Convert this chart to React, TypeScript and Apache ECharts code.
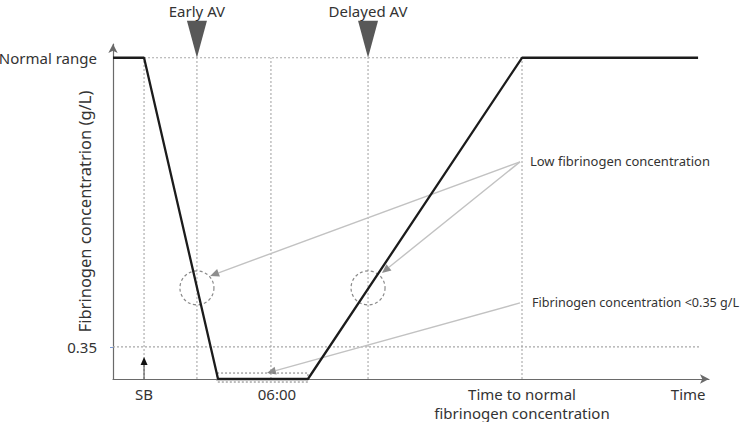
import React, { useEffect, useRef } from "react";
import * as echarts from "echarts";

// ---- data (schematic units: x = time, y = fibrinogen level) ----
const X_MAX = 24;
const Y_MAX = 3.65;
const NORMAL = 3.5;
const LOW = 0.35;

const profileX = [0, 1.25, 4.23, 7.85, 16.47, 23.56];
const profileY = [3.5, 3.5, 0, 0, 3.5, 3.5];

const yTickValues = [0.35, 3.5];
const yTickLabels = ["0.35", "Normal range"];

const xTickValues = [1.25, 6.6, 16.47, 23.16];
const xTickLabels = ["SB", "06:00", "Time to normal\nfibrinogen concentration", "Time"];

const guideVX = [1.25, 3.38, 6.36, 10.27, 16.47];
const guideHY = [3.5, 0.35];
const guideHFrom = [1.25, 0];
const guideHTo = [16.47, 23.64];

const avNames = ["Early AV", "Delayed AV"];
const avX = [3.38, 10.27];

const circleX = [3.38, 10.27];
const circleY = [0.992, 0.992];

const calloutText = ["Low fibrinogen concentration", "Fibrinogen concentration <0.35 g/L"];
const calloutTextX = [16.79, 16.87];
const calloutTextY = [2.377, 0.829];
const calloutFontSize = [13, 12.6];

const arrowFromX = [16.39, 16.39, 16.39];
const arrowFromY = [2.366, 2.366, 0.829];
const arrowToX = [3.91, 10.83, 6.2];
const arrowToY = [1.123, 1.156, 0.065];

const boxX = [4.19, 7.85];
const boxY = [-0.033, 0.065];

const sbArrowX = [1.25];
const sbArrowY = [0, 0.24];

const FONT = '"Noto Sans", sans-serif';
const TEXT = "#333333";

function arrowHead(a: number[], b: number[], len: number, half: number) {
  const dx = b[0] - a[0];
  const dy = b[1] - a[1];
  const L = Math.sqrt(dx * dx + dy * dy) || 1;
  const ux = dx / L;
  const uy = dy / L;
  const bx = b[0] - ux * len;
  const by = b[1] - uy * len;
  return {
    base: [bx, by],
    pts: [
      [b[0], b[1]],
      [bx - uy * half, by + ux * half],
      [bx + uy * half, by - ux * half],
    ],
  };
}

export default function App() {
  const ref = useRef<HTMLDivElement>(null);

  useEffect(() => {
    if (!ref.current) return;
    const chart = echarts.init(ref.current, undefined, { renderer: "svg" });

    const guideData: number[][] = [];
    guideVX.forEach((x) => guideData.push([x, 0, x, NORMAL]));
    guideHY.forEach((y, i) => guideData.push([guideHFrom[i], y, guideHTo[i], y]));

    const option: any = {
      animation: false,
      grid: {
        left: 113,
        right: 41,
        top: 44,
        bottom: 43,
        containLabel: false,
        outerBoundsMode: "none",
      },
      xAxis: {
        type: "value",
        min: 0,
        max: X_MAX,
        splitLine: { show: false },
        axisTick: { show: false },
        axisLine: {
          show: true,
          lineStyle: { color: "#6a6a6a", width: 1.2 },
          symbol: ["none", "arrow"],
          symbolSize: [7, 9],
        },
        axisLabel: {
          customValues: xTickValues,
          formatter: (v: number) => {
            const i = xTickValues.findIndex((t) => Math.abs(t - v) < 1e-6);
            return i >= 0 ? xTickLabels[i] : "";
          },
          margin: 5,
          fontSize: 15,
          lineHeight: 19,
          color: TEXT,
          fontFamily: FONT,
        },
      },
      yAxis: {
        type: "value",
        min: 0,
        max: Y_MAX,
        splitLine: { show: false },
        axisLine: {
          show: true,
          lineStyle: { color: "#6a6a6a", width: 1.2 },
          symbol: ["none", "arrow"],
          symbolSize: [7, 9],
        },
        axisTick: {
          show: true,
          customValues: [LOW],
          length: 3,
          lineStyle: { color: "#7a9ad8" },
        },
        axisLabel: {
          customValues: yTickValues,
          formatter: (v: number) => {
            const i = yTickValues.findIndex((t) => Math.abs(t - v) < 1e-6);
            return i >= 0 ? yTickLabels[i] : "";
          },
          margin: 16,
          fontSize: 15,
          color: TEXT,
          fontFamily: FONT,
        },
        name: "Fibrinogen concentratrion (g/L)",
        nameLocation: "middle",
        nameGap: 20,
        nameMoveOverlap: false,
        nameTextStyle: { fontSize: 16.5, color: TEXT, fontFamily: FONT },
      },
      series: [
        {
          type: "custom",
          name: "guides",
          clip: false,
          silent: true,
          z: 1,
          data: guideData,
          renderItem: (_p: any, api: any) => {
            const a = api.coord([api.value(0), api.value(1)]);
            const b = api.coord([api.value(2), api.value(3)]);
            return {
              type: "line",
              shape: { x1: a[0], y1: a[1], x2: b[0], y2: b[1] },
              style: { stroke: "#a8a8a8", lineWidth: 1.1, lineDash: [2, 2] },
            };
          },
        },
        {
          type: "line",
          name: "profile",
          clip: false,
          silent: true,
          z: 5,
          symbol: "none",
          data: profileX.map((x, i) => [x, profileY[i]]),
          lineStyle: { color: "#1c1c1c", width: 2.3 },
        },
        {
          type: "custom",
          name: "av",
          clip: false,
          silent: true,
          z: 4,
          data: avX.map((x) => [x, NORMAL]),
          renderItem: (p: any, api: any) => {
            const tip = api.coord([api.value(0), api.value(1)]);
            return {
              type: "group",
              children: [
                {
                  type: "polygon",
                  shape: {
                    points: [
                      [tip[0] - 10, tip[1] - 37],
                      [tip[0] + 10, tip[1] - 37],
                      [tip[0], tip[1]],
                    ],
                  },
                  style: { fill: "#585858" },
                },
                {
                  type: "text",
                  x: tip[0],
                  y: tip[1] - 47,
                  style: {
                    text: avNames[p.dataIndex],
                    fill: TEXT,
                    font: `15px ${FONT}`,
                    align: "center",
                    verticalAlign: "middle",
                    textAlign: "center",
                    textVerticalAlign: "middle",
                  },
                },
              ],
            };
          },
        },
        {
          type: "custom",
          name: "circles",
          clip: false,
          silent: true,
          z: 3,
          data: circleX.map((x, i) => [x, circleY[i]]),
          renderItem: (_p: any, api: any) => {
            const c = api.coord([api.value(0), api.value(1)]);
            return {
              type: "circle",
              shape: { cx: c[0], cy: c[1], r: 17 },
              style: { fill: "none", stroke: "#8a8a8a", lineWidth: 1.2, lineDash: [3, 2.5] },
            };
          },
        },
        {
          type: "custom",
          name: "arrows",
          clip: false,
          silent: true,
          z: 3,
          data: arrowFromX.map((x, i) => [x, arrowFromY[i], arrowToX[i], arrowToY[i]]),
          renderItem: (_p: any, api: any) => {
            const a = api.coord([api.value(0), api.value(1)]);
            const b = api.coord([api.value(2), api.value(3)]);
            const h = arrowHead(a, b, 9, 4);
            return {
              type: "group",
              children: [
                {
                  type: "line",
                  shape: { x1: a[0], y1: a[1], x2: h.base[0], y2: h.base[1] },
                  style: { stroke: "#c2c2c2", lineWidth: 1.4 },
                },
                {
                  type: "polygon",
                  shape: { points: h.pts },
                  style: { fill: "#8e8e8e" },
                },
              ],
            };
          },
        },
        {
          type: "custom",
          name: "callouts",
          clip: false,
          silent: true,
          z: 3,
          data: calloutTextX.map((x, i) => [x, calloutTextY[i]]),
          renderItem: (p: any, api: any) => {
            const c = api.coord([api.value(0), api.value(1)]);
            return {
              type: "text",
              x: c[0],
              y: c[1],
              style: {
                text: calloutText[p.dataIndex],
                fill: TEXT,
                font: `${calloutFontSize[p.dataIndex]}px ${FONT}`,
                align: "left",
                verticalAlign: "middle",
                textAlign: "left",
                textVerticalAlign: "middle",
              },
            };
          },
        },
        {
          type: "custom",
          name: "box",
          clip: false,
          silent: true,
          z: 4,
          data: [[boxX[0], boxY[1], boxX[1], boxY[0]]],
          renderItem: (_p: any, api: any) => {
            const a = api.coord([api.value(0), api.value(1)]);
            const b = api.coord([api.value(2), api.value(3)]);
            return {
              type: "rect",
              shape: { x: a[0], y: a[1], width: b[0] - a[0], height: b[1] - a[1] },
              style: { fill: "none", stroke: "#7a7a7a", lineWidth: 1, lineDash: [2, 2] },
            };
          },
        },
        {
          type: "custom",
          name: "sb",
          clip: false,
          silent: true,
          z: 4,
          data: sbArrowX.map((x) => [x, sbArrowY[0], x, sbArrowY[1]]),
          renderItem: (_p: any, api: any) => {
            const a = api.coord([api.value(0), api.value(1)]);
            const b = api.coord([api.value(2), api.value(3)]);
            const h = arrowHead(a, b, 8, 3.5);
            return {
              type: "group",
              children: [
                {
                  type: "line",
                  shape: { x1: a[0], y1: a[1], x2: h.base[0], y2: h.base[1] },
                  style: { stroke: "#444", lineWidth: 1 },
                },
                { type: "polygon", shape: { points: h.pts }, style: { fill: "#111" } },
              ],
            };
          },
        },
      ],
    };

    chart.setOption(option);
    return () => chart.dispose();
  }, []);

  return (
    <div
      ref={ref}
      style={{ position: "absolute", left: 0, top: 0, width: 750, height: 422, background: "#fff" }}
    />
  );
}
